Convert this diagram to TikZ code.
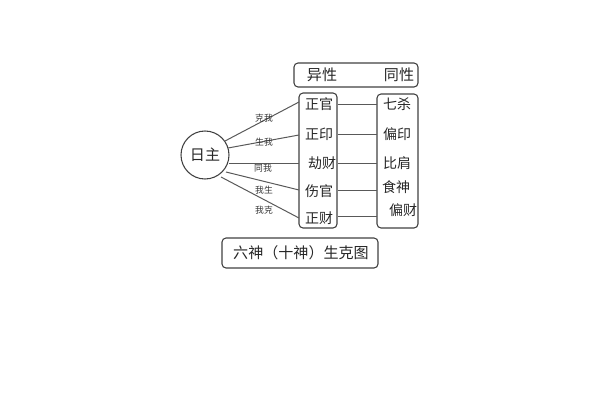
\documentclass[tikz,border=0pt]{standalone}
\usepackage{fontspec}
\setmainfont{Noto Sans CJK SC}
\begin{document}
\begin{tikzpicture}[x=0.75pt,y=-0.75pt,
  frame/.style={draw=black!75,line width=0.8pt,rounded corners=3pt},
  conn/.style={draw=black!65,line width=0.75pt},
  word/.style={font=\fontsize{11.3}{12}\selectfont,text=black!85,inner sep=0pt},
  cell/.style={font=\fontsize{10.5}{12}\selectfont,text=black!85,inner sep=0pt},
  tiny/.style={font=\fontsize{6.6}{7}\selectfont,text=black!80,inner sep=0pt}]
\useasboundingbox (0,0) rectangle (600,400);
% boxes
\node[frame,minimum width=124*0.75pt,minimum height=24*0.75pt,inner sep=0pt] (top) at (356,75) {};
\node[word] (yi) at (322,75) {异性};
\node[word] (tong) at (399,75) {同性};
\node[frame,minimum width=38*0.75pt,minimum height=135*0.75pt,inner sep=0pt] (lcol) at (318,160.5) {};
\node[frame,minimum width=41*0.75pt,minimum height=134*0.75pt,inner sep=0pt] (rcol) at (397.5,161) {};
\node[frame,minimum width=156*0.75pt,minimum height=30*0.75pt,inner sep=0pt] (bottom) at (300,253) {};
\node[word] (title) at (301,253) {六神（十神）生克图};
\node[draw=black!75,line width=0.8pt,circle,minimum size=48*0.75pt,inner sep=0pt] (sun) at (205,155) {};
\node[word] (rz) at (205,155) {日主};
% left column entries
\node[cell] (l1) at (319,104) {正官};
\node[cell] (l2) at (319,134) {正印};
\node[cell] (l3) at (322,163) {劫财};
\node[cell] (l4) at (319,191) {伤官};
\node[cell] (l5) at (319,218) {正财};
% right column entries
\node[cell] (r1) at (397,104) {七杀};
\node[cell] (r2) at (397,134) {偏印};
\node[cell] (r3) at (397,163) {比肩};
\node[cell] (r4) at (396,187) {食神};
\node[cell] (r5) at (403,210) {偏财};
% connector anchor points
\coordinate (a1) at (299,102);
\coordinate (a2) at (299,135);
\coordinate (a3) at (299,163);
\coordinate (a4) at (299,190);
\coordinate (a5) at (299,218);
\coordinate (s1) at (225,141);
\coordinate (s2) at (228,148);
\coordinate (s3) at (229,163);
\coordinate (s4) at (226,172);
\coordinate (s5) at (221,177);
\draw[conn] (s1) -- (a1);
\draw[conn] (s2) -- (a2);
\draw[conn] (s3) -- (a3);
\draw[conn] (s4) -- (a4);
\draw[conn] (s5) -- (a5);
% horizontal lines
\coordinate (b1) at (338,104); \coordinate (c1) at (377,104);
\coordinate (b2) at (338,134); \coordinate (c2) at (377,134);
\coordinate (b3) at (338,163); \coordinate (c3) at (377,163);
\coordinate (b4) at (338,190); \coordinate (c4) at (377,190);
\coordinate (b5) at (338,216); \coordinate (c5) at (377,216);
\draw[conn] (b1) -- (c1);
\draw[conn] (b2) -- (c2);
\draw[conn] (b3) -- (c3);
\draw[conn] (b4) -- (c4);
\draw[conn] (b5) -- (c5);
% relation labels
\node[tiny] (k1) at (264,118) {克我};
\node[tiny] (k2) at (264,142) {生我};
\node[tiny] (k3) at (263,168) {同我};
\node[tiny] (k4) at (264,190) {我生};
\node[tiny] (k5) at (264,210) {我克};
\end{tikzpicture}
\end{document}
